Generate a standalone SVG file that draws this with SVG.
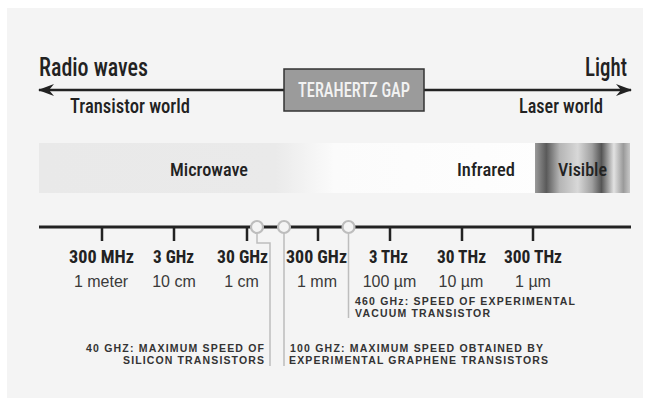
<svg xmlns="http://www.w3.org/2000/svg" width="650" height="405" viewBox="0 0 650 405">
  <defs>
    <style>
      .cond { font-family: "Roboto Condensed", "Liberation Sans Narrow", "DejaVu Sans Condensed", Roboto, sans-serif; fill: #222; }
      .head { font-size: 25px; font-weight: 500; }
      .sub { font-size: 21px; font-weight: 500; }
      .band { font-size: 19px; font-weight: 500; }
      .freq { font-size: 18px; font-weight: bold; text-anchor: middle; }
      .wave { font-family: "Liberation Sans", Arial, sans-serif; font-size: 16px; fill: #3a3a3a; text-anchor: middle; }
      .note { font-family: "Liberation Sans", Arial, sans-serif; font-size: 10.5px; font-weight: bold; fill: #333; }
      .lead { fill: none; stroke: #bdbdbd; stroke-width: 1.5; }
      .tick { stroke: #222; stroke-width: 2.5; }
      .dot { fill: #f4f4f4; stroke: #bdbdbd; stroke-width: 2.2; }
    </style>
    <marker id="ah" viewBox="0 0 16 12" refX="15" refY="6" markerWidth="16" markerHeight="12" markerUnits="userSpaceOnUse" orient="auto-start-reverse">
      <path d="M0,0 L16,6 L0,12 L5,6 Z" fill="#222"/>
    </marker>
    <linearGradient id="bandGrad" x1="0" y1="0" x2="1" y2="0">
      <stop offset="0" stop-color="#e9e9e9"/>
      <stop offset="0.40" stop-color="#eaeaea"/>
      <stop offset="0.50" stop-color="#fbfbfb"/>
      <stop offset="1" stop-color="#ffffff"/>
    </linearGradient>
    <linearGradient id="visGrad" x1="0" y1="0" x2="1" y2="0">
      <stop offset="0" stop-color="#9a9a9a"/>
      <stop offset="0.12" stop-color="#5a5a5a"/>
      <stop offset="0.26" stop-color="#b5b5b5"/>
      <stop offset="0.45" stop-color="#d8d8d8"/>
      <stop offset="0.6" stop-color="#a0a0a0"/>
      <stop offset="0.7" stop-color="#555555"/>
      <stop offset="0.83" stop-color="#e2e2e2"/>
      <stop offset="0.93" stop-color="#9a9a9a"/>
      <stop offset="1" stop-color="#c8c8c8"/>
    </linearGradient>
  </defs>

  <rect x="0" y="0" width="650" height="405" fill="#ffffff"/>
  <rect x="7" y="8" width="636" height="390" fill="#f4f4f4"/>

  <g id="connectors">
    <line x1="284" y1="90" x2="39" y2="90" stroke="#222" stroke-width="2.5" marker-end="url(#ah)"/>
    <line x1="424" y1="90" x2="631" y2="90" stroke="#222" stroke-width="2.5" marker-end="url(#ah)"/>
    <polyline class="lead" points="257,232 257,243 270,243 270,366"/>
    <line class="lead" x1="284" y1="233" x2="284" y2="366"/>
    <line class="lead" x1="348.5" y1="233" x2="348.5" y2="318"/>
  </g>

  <g id="headers">
    <text class="cond head" x="39" y="76" textLength="109" lengthAdjust="spacingAndGlyphs">Radio waves</text>
    <text class="cond sub" x="70" y="113" textLength="120" lengthAdjust="spacingAndGlyphs">Transistor world</text>
    <text class="cond head" x="585" y="76" textLength="42" lengthAdjust="spacingAndGlyphs">Light</text>
    <text class="cond sub" x="519" y="113" textLength="84" lengthAdjust="spacingAndGlyphs">Laser world</text>
  </g>

  <g id="terahertz-gap">
    <rect x="284" y="69" width="140" height="42" fill="#9b9b9b" stroke="#333" stroke-width="1.5"/>
    <text class="cond" x="298" y="97" font-size="20" font-weight="500" style="fill:#f2f2f2" textLength="112" lengthAdjust="spacingAndGlyphs">TERAHERTZ GAP</text>
  </g>

  <g id="spectrum-band">
    <rect x="39" y="143" width="591" height="50" fill="url(#bandGrad)"/>
    <rect x="535" y="143" width="95" height="50" fill="url(#visGrad)"/>
    <text class="cond band" x="170" y="176" textLength="78" lengthAdjust="spacingAndGlyphs">Microwave</text>
    <text class="cond band" x="457" y="176" textLength="58" lengthAdjust="spacingAndGlyphs">Infrared</text>
    <text class="cond band" x="558" y="176" textLength="49" lengthAdjust="spacingAndGlyphs">Visible</text>
  </g>

  <g id="axis">
    <line x1="39" y1="227" x2="631" y2="227" stroke="#222" stroke-width="3"/>
    <line class="tick" x1="102" y1="227" x2="102" y2="241"/>
    <line class="tick" x1="174" y1="227" x2="174" y2="241"/>
    <line class="tick" x1="247" y1="227" x2="247" y2="241"/>
    <line class="tick" x1="318" y1="227" x2="318" y2="241"/>
    <line class="tick" x1="390" y1="227" x2="390" y2="241"/>
    <line class="tick" x1="462" y1="227" x2="462" y2="241"/>
    <line class="tick" x1="533" y1="227" x2="533" y2="241"/>
    <circle class="dot" cx="257" cy="227" r="6"/>
    <circle class="dot" cx="284" cy="227" r="6"/>
    <circle class="dot" cx="348.5" cy="227" r="6"/>
  </g>

  <g id="frequencies">
    <text class="cond freq" x="101.5" y="263" textLength="65" lengthAdjust="spacingAndGlyphs">300 MHz</text>
    <text class="cond freq" x="173.5" y="263" textLength="41" lengthAdjust="spacingAndGlyphs">3 GHz</text>
    <text class="cond freq" x="242.5" y="263" textLength="51" lengthAdjust="spacingAndGlyphs">30 GHz</text>
    <text class="cond freq" x="316.5" y="263" textLength="61" lengthAdjust="spacingAndGlyphs">300 GHz</text>
    <text class="cond freq" x="388.5" y="263" textLength="39" lengthAdjust="spacingAndGlyphs">3 THz</text>
    <text class="cond freq" x="461.5" y="263" textLength="49" lengthAdjust="spacingAndGlyphs">30 THz</text>
    <text class="cond freq" x="533" y="263" textLength="58" lengthAdjust="spacingAndGlyphs">300 THz</text>
  </g>

  <g id="wavelengths">
    <text class="wave" x="101" y="287">1 meter</text>
    <text class="wave" x="174" y="287">10 cm</text>
    <text class="wave" x="241.5" y="287">1 cm</text>
    <text class="wave" x="317" y="287">1 mm</text>
    <text class="wave" x="389.5" y="287">100 µm</text>
    <text class="wave" x="461" y="287">10 µm</text>
    <text class="wave" x="533" y="287">1 µm</text>
  </g>

  <g id="note-40ghz">
    <text class="note" x="86" y="352" textLength="178" lengthAdjust="spacing">40 GHZ: MAXIMUM SPEED OF</text>
    <text class="note" x="123" y="364" textLength="141" lengthAdjust="spacing">SILICON TRANSISTORS</text>
  </g>
  <g id="note-100ghz">
    <text class="note" x="290" y="352" textLength="253" lengthAdjust="spacing">100 GHZ: MAXIMUM SPEED OBTAINED BY</text>
    <text class="note" x="289" y="364" textLength="259" lengthAdjust="spacing">EXPERIMENTAL GRAPHENE TRANSISTORS</text>
  </g>
  <g id="note-460ghz">
    <text class="note" x="355" y="305" textLength="220" lengthAdjust="spacing">460 GHz: SPEED OF EXPERIMENTAL</text>
    <text class="note" x="355" y="317" textLength="135" lengthAdjust="spacing">VACUUM TRANSISTOR</text>
  </g>
</svg>
